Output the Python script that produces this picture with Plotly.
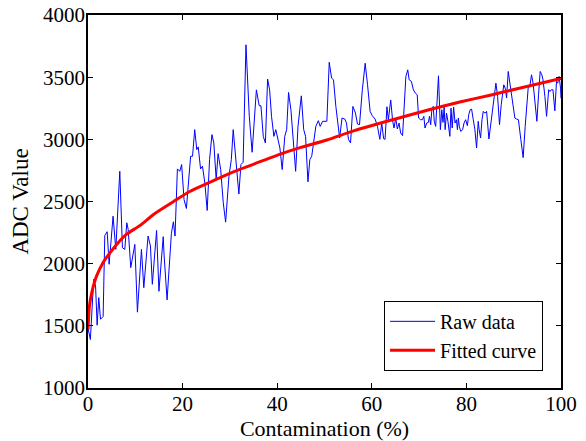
import plotly.graph_objects as go

raw_x = [0, 0.5, 1.2, 1.6, 1.93, 2.28, 2.64, 3.2, 3.55, 4.05, 4.47, 5.3, 5.88, 6.72, 7.28, 7.78,
         8.2, 8.5, 9.04, 9.5, 9.9, 10.45, 10.95, 11.3, 11.8, 12.7, 13.2, 13.6, 14.5, 15.0, 15.9,
         16.1, 16.72, 17.28, 17.63, 18.05, 18.4, 18.9, 19.4, 19.8, 20.3, 20.8, 21.7, 22.1, 22.56,
         23.0, 23.3, 23.8, 24.2, 24.7, 25.2, 25.7, 26.2, 26.6, 27.1, 27.5, 28.05, 28.6, 29.1, 29.8,
         30.3, 30.7, 31.2, 31.9, 32.33, 32.8, 33.4, 34.1, 34.7, 35.6, 36.2, 36.56, 37.05, 37.5,
         37.97, 38.4, 38.8, 39.3, 39.7, 40.2, 40.57, 41.06, 41.6, 42.0, 42.4, 42.9, 43.4, 43.9,
         44.4, 45.1, 45.6, 46.0, 46.5, 46.9, 47.3, 47.8, 48.17, 48.7, 49.09, 49.6, 50.5, 51.0,
         51.5, 51.9, 52.4, 53.2, 53.7, 54.3, 54.65, 55.07, 55.5, 56.0, 56.55, 56.97, 57.4, 58.0,
         58.6, 59.1, 59.65, 60.1, 60.7, 61.2, 61.7, 62.1, 62.5, 62.8, 63.2, 63.5, 64.0, 64.4,
         64.7, 65.06, 65.4, 65.76, 66.1, 66.5, 66.9, 67.2, 67.6, 67.9, 68.37, 68.8, 69.2, 69.6,
         69.9, 70.3, 70.7, 71.0, 71.25, 71.6, 71.96, 72.2, 72.45, 72.7, 73.0, 73.2, 73.5, 73.8,
         74.1, 74.5, 74.8, 75.05, 75.3, 75.5, 75.8, 76.1, 76.5, 76.75, 77.0, 77.3, 77.6, 77.9,
         78.1, 78.3, 78.5, 78.8, 79.2, 79.5, 79.84, 80.2, 80.5, 80.8, 81.1, 81.45, 81.8, 82.15,
         82.5, 82.7, 83.0, 83.3, 83.56, 83.9, 84.27, 84.76, 85.1, 85.53, 85.95, 86.24, 86.6, 87.0,
         87.36, 87.64, 87.9, 88.2, 88.5, 88.84, 89.2, 89.55, 89.9, 90.25, 90.6, 91.0, 91.5, 92.0,
         92.43, 92.8, 93.06, 93.4, 93.77, 94.1, 94.5, 94.9, 95.25, 95.6, 95.95, 96.2, 96.6, 96.95,
         97.4, 97.66, 97.95, 98.3, 98.7, 99.05, 99.3, 99.6, 99.9, 100.0]
raw_y = [1480, 1390, 1874, 1820, 1505, 1727, 1553, 1575, 2227, 2257, 1995, 2382, 2115, 2743, 2128, 2115,
         2329, 2275, 1968, 2062, 2155, 1610, 1900, 2115, 1807, 2222, 2142, 1834, 2267, 1778, 2217,
         2062, 1709, 2008, 2243, 2337, 2222, 2762, 2743, 2797, 2516, 2444, 2864, 2864, 3078,
         2917, 2939, 2762, 2784, 2650, 2428, 2837, 3038, 2971, 2676, 2885, 2757, 2489, 2334, 2703,
         2837, 3078, 2864, 2560, 2797, 2816, 3760, 3184, 2896, 3398, 3270, 3270, 3024, 2971,
         3485, 3398, 3185, 3024, 3078, 2997, 2930, 2757, 3024, 3078, 3377, 3238, 3024, 2743,
         3104, 3350, 3078, 3024, 2658, 2837, 2864, 3024, 3104, 3150, 3104, 3145, 3145, 3620,
         3492, 3479, 3265, 3011, 3171, 3163, 3131, 3000, 2971, 3265, 3211, 3123, 3118, 3399,
         3612, 3439, 3225, 3190, 3163, 3104, 3000, 3131, 3005, 3000, 3262, 3158, 3316, 3150,
         3091, 3171, 3083, 3131, 3051, 3030, 3318, 3505, 3559, 3479, 3466, 3398, 3372, 3358,
         3171, 3158, 3158, 3185, 3091, 3131, 3136, 3185, 3118, 3238, 3265, 3145, 3104, 3278,
         3511, 3078, 3238, 3136, 3260, 3078, 3211, 3145, 3024, 3251, 3091, 3260, 3131, 3158,
         3078, 3171, 3104, 3064, 3078, 3131, 3158, 3110, 3200, 3238, 3243, 3158, 3078, 2930,
         3145, 3078, 3011, 3158, 3225, 3211, 3225, 3003, 3104, 3225, 3358, 3452, 3345, 3118,
         3278, 3345, 3439, 3412, 3332, 3546, 3452, 3345, 3238, 3171, 3163, 3158, 3000, 2853,
         3104, 3345, 3412, 3425, 3519, 3452, 3305, 3145, 3358, 3546, 3519, 3479, 3345, 3185,
         3399, 3385, 3399, 3399, 3230, 3466, 3452, 3506, 3412, 3330]

fit_x = [0, 0.25, 0.53, 1.1, 1.8, 3.2, 4.6, 6.7, 8.1, 11.1, 14.0, 18.1, 21.5, 25.2, 28.4,
         32.2, 36.4, 40.2, 45.0, 50.5, 56.3, 64.6, 72.3, 78.6, 85.0, 90.5, 100]
fit_y = [1470, 1640, 1715, 1815, 1900, 2010, 2085, 2182, 2235, 2310, 2400, 2500, 2580, 2645, 2700,
         2760, 2820, 2875, 2935, 2995, 3070, 3160, 3240, 3300, 3355, 3405, 3490]

x_ticks = [0, 20, 40, 60, 80, 100]
y_ticks = [1000, 1500, 2000, 2500, 3000, 3500, 4000]

FONT = "Liberation Serif, Times New Roman, serif"

fig = go.Figure()
fig.add_trace(go.Scatter(x=raw_x, y=raw_y, mode="lines", name="Raw data",
                         line=dict(color="#0000ff", width=1)))
fig.add_trace(go.Scatter(x=fit_x, y=fit_y, mode="lines", name="Fitted curve",
                         line=dict(color="#ff0000", width=3, shape="spline", smoothing=0.6)))

axis_common = dict(showgrid=False, zeroline=False, showline=True, linecolor="black",
                   linewidth=1.5, mirror="ticks", ticks="inside", ticklen=5, tickwidth=1,
                   tickcolor="black", automargin=False,
                   tickfont=dict(family=FONT, size=21, color="black"))

fig.update_xaxes(range=[0, 100], tickvals=x_ticks, ticklabelstandoff=-4,
                 title=dict(text="Contamination (%)",
                            font=dict(family=FONT, size=22, color="black"), standoff=2),
                 **axis_common)
fig.update_yaxes(range=[1000, 4000], tickvals=y_ticks, ticklabelstandoff=-3,
                 title=dict(text="ADC Value",
                            font=dict(family=FONT, size=23, color="black"), standoff=8),
                 **axis_common)

fig.update_layout(
    width=586, height=441,
    margin=dict(l=88, r=25, t=15, b=53),
    plot_bgcolor="white", paper_bgcolor="white",
    font=dict(family=FONT, color="black"),
    legend=dict(x=0.962, y=0.046, xanchor="right", yanchor="bottom",
                bgcolor="white", bordercolor="black", borderwidth=1,
                font=dict(family=FONT, size=20, color="black"),
                tracegroupgap=0, itemwidth=45),
    showlegend=True,
)

fig.write_html("out.html")
